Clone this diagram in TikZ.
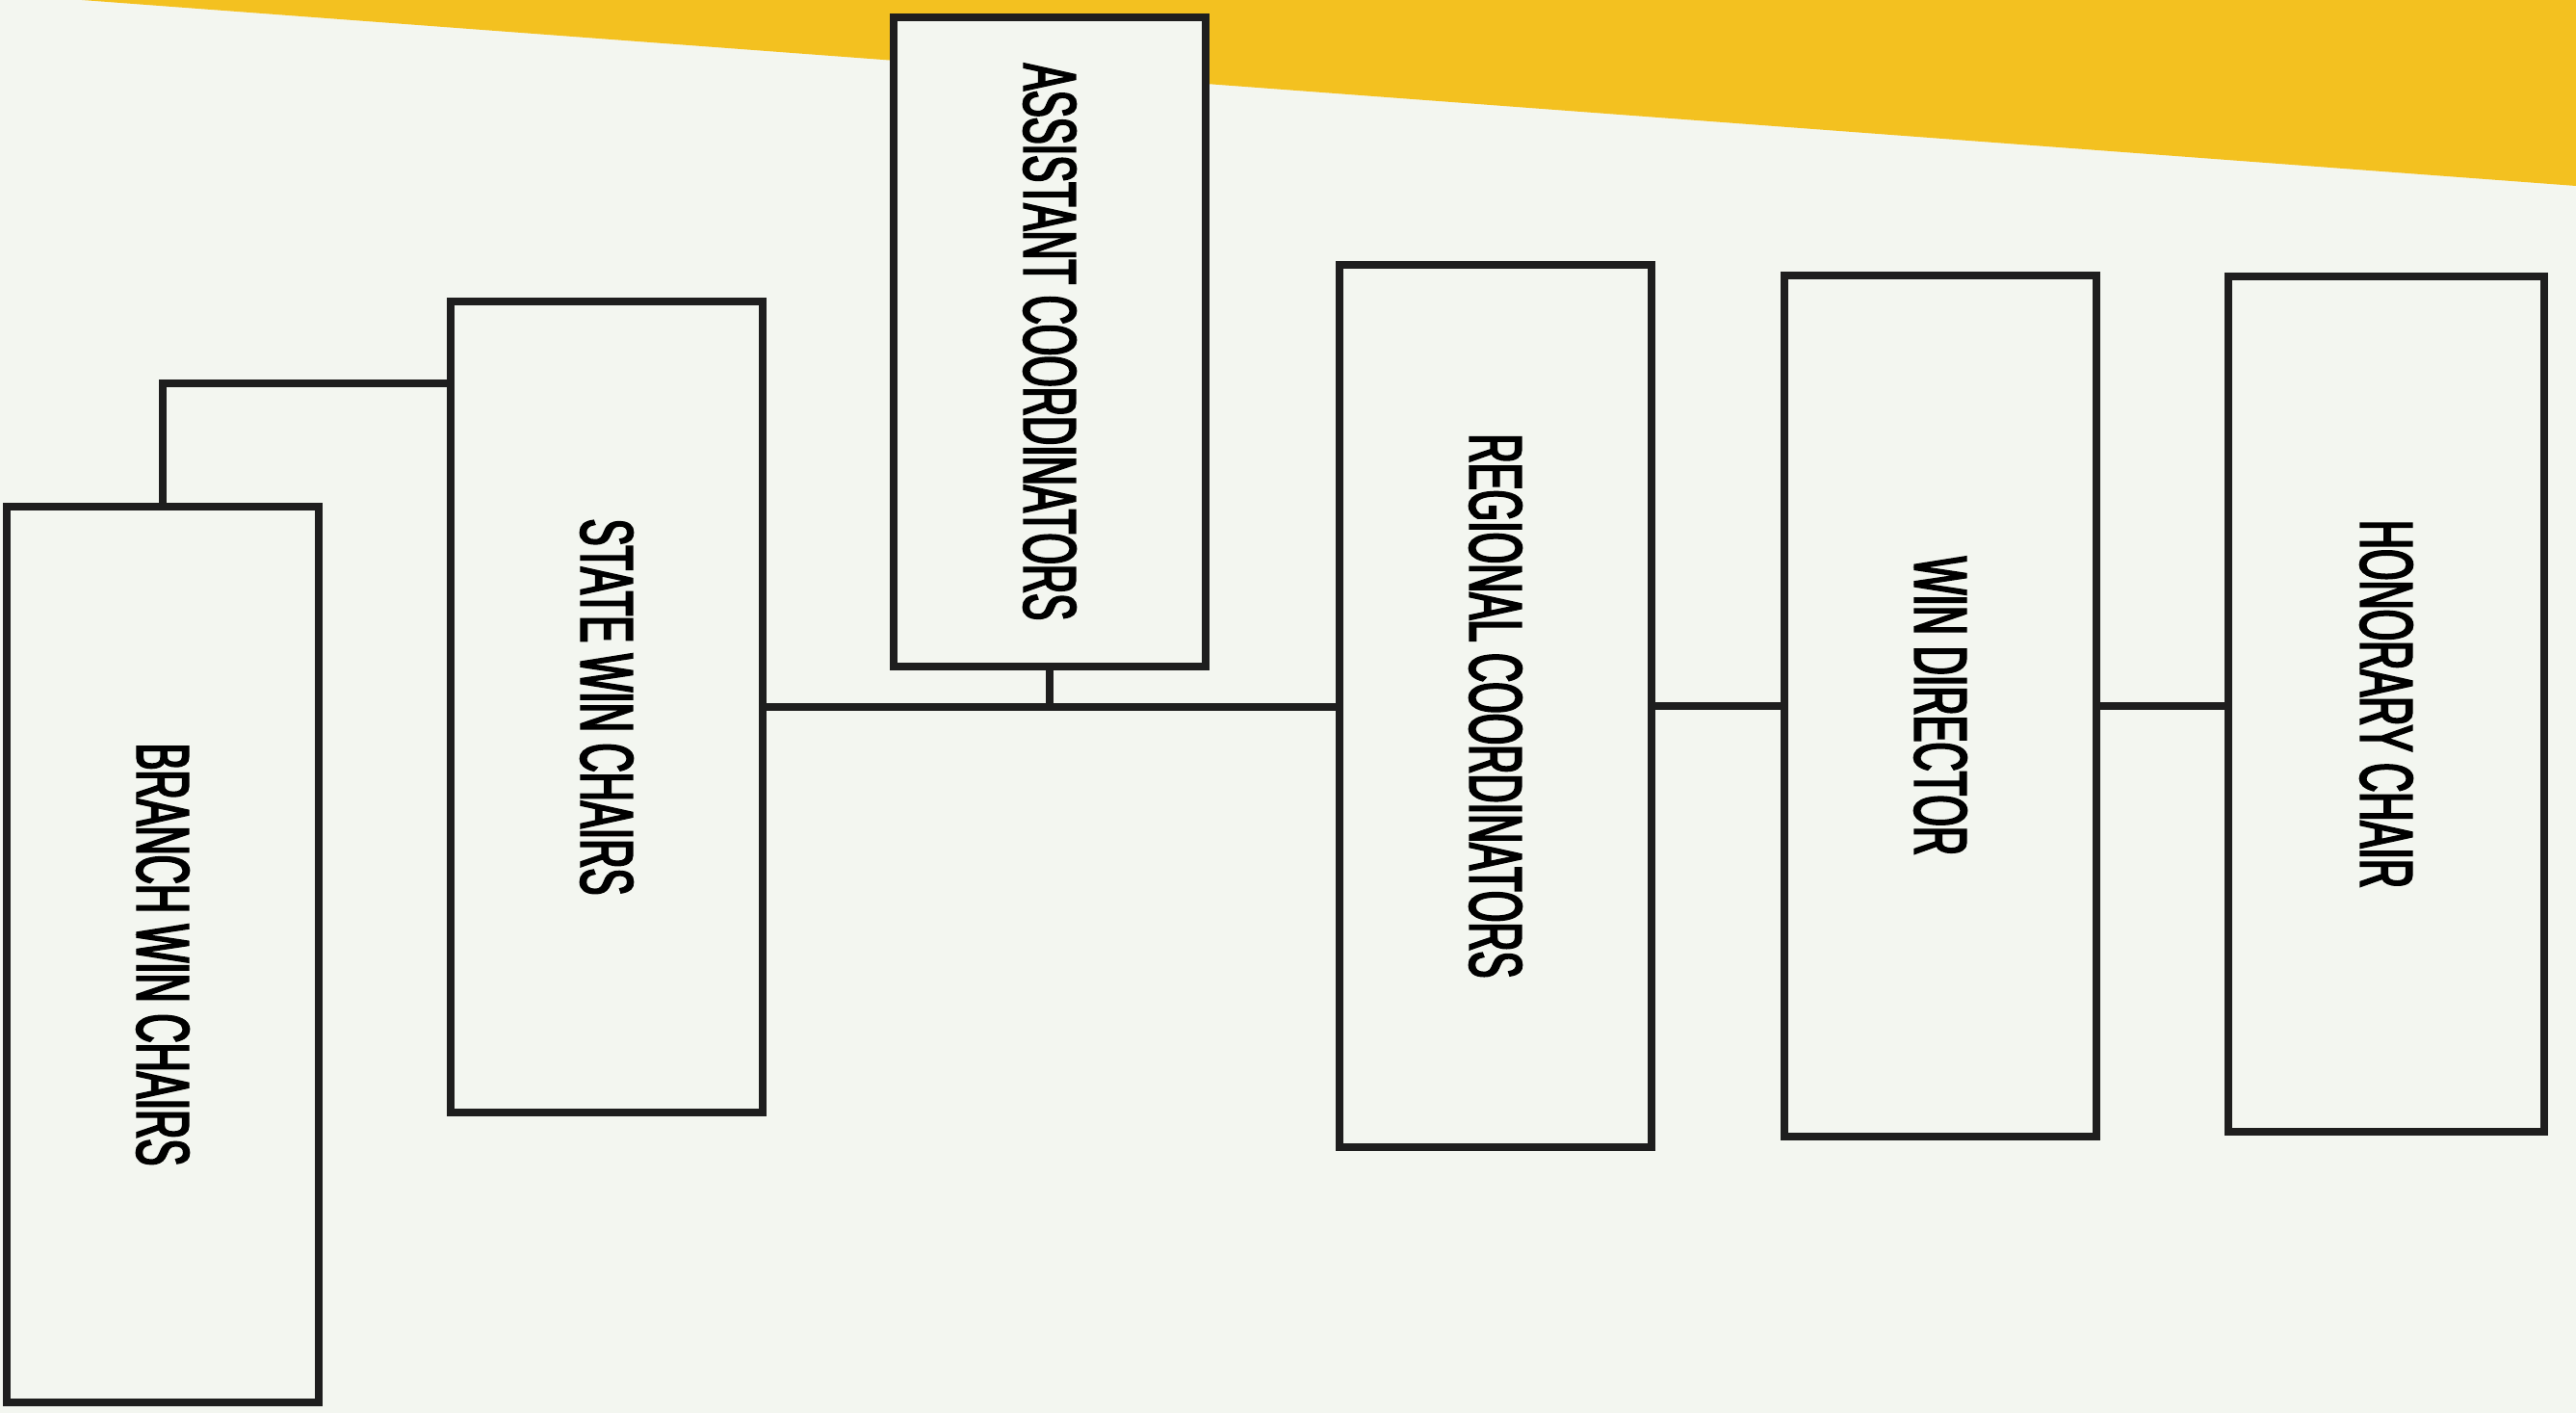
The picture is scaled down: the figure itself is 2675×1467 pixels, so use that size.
\documentclass[tikz,border=0pt]{standalone}
\usepackage{fontspec}
\usepackage{graphicx}
\newfontfamily\chartfont[FakeStretch=0.54, FakeBold=2.6]{Liberation Sans}
\definecolor{paper}{RGB}{243,246,240}
\definecolor{banner}{RGB}{243,193,32}
\definecolor{ink}{RGB}{30,30,30}
\tikzset{
  post/.style={draw=ink, fill=paper, line width=2.3pt, minimum width=3.24cm,
    inner sep=0pt, font=\chartfont\fontsize{22}{26}\selectfont},
  wire/.style={draw=ink, line width=2.3pt}
}
\begin{document}
\begin{tikzpicture}[x=0.01cm, y=-0.01cm]
  % --- background and yellow band ---
  \fill[paper] (0,0) rectangle (2675,1467);
  \fill[banner] (85,0) -- (2675,0) -- (2675,193) -- cycle;
  \useasboundingbox (0,0) rectangle (2675,1467);
  % --- boxes ---
  \node[post, minimum height=9.29cm] (branch) at (169,991) {\rotatebox{-90}{BRANCH WIN CHAIRS}};
  \node[post, minimum height=8.41cm] (state) at (630,734) {\rotatebox{-90}{STATE WIN CHAIRS}};
  \node[post, minimum height=6.74cm] (assist) at (1090,355) {\rotatebox{-90}{ASSISTANT COORDINATORS}};
  \node[post, minimum height=9.16cm] (regional) at (1553,733) {\rotatebox{-90}{REGIONAL COORDINATORS}};
  \node[post, minimum height=8.94cm] (director) at (2015,733) {\rotatebox{-90}{WIN DIRECTOR}};
  \node[post, minimum height=8.87cm, minimum width=3.28cm] (honorary) at (2478,731) {\rotatebox{-90}{HONORARY CHAIR}};
  % --- connectors ---
  \coordinate (elbow) at (169,398);
  \draw[wire] (branch.north) |- (state.west |- elbow);
  \draw[wire] (state.east) -- (state.east -| regional.west);
  \draw[wire] (assist.south) -- (assist.south |- state.east);
  \draw[wire] (regional.east) -- (regional.east -| director.west);
  \draw[wire] (director.east) -- (director.east -| honorary.west);
\end{tikzpicture}
\end{document}
